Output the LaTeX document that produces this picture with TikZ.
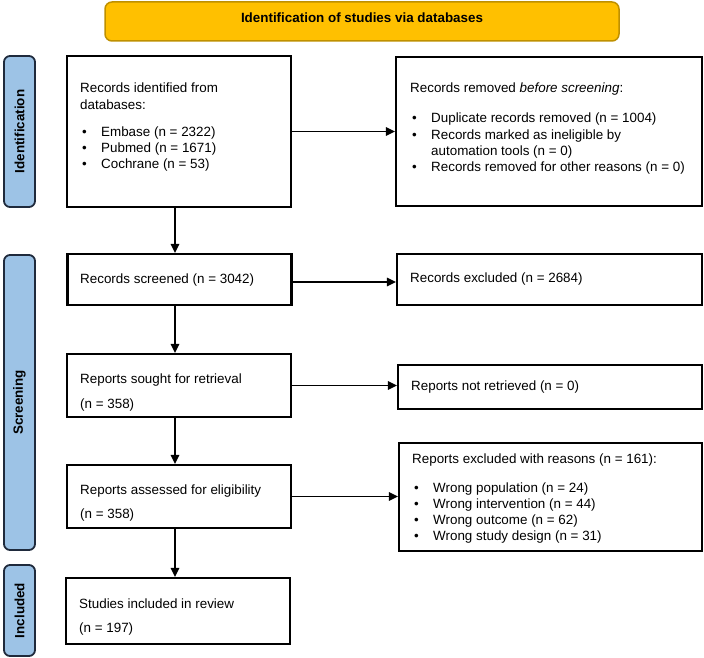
\documentclass[tikz,border=0pt]{standalone}
\usepackage{fontspec}
\setmainfont{Liberation Sans}
\usetikzlibrary{arrows.meta,calc}
\definecolor{bannerfill}{HTML}{FFC000}
\definecolor{bannerdraw}{HTML}{BF9000}
\definecolor{sidefill}{HTML}{9DC3E6}
\definecolor{sidedraw}{HTML}{1F2A3C}
\newcommand\pbul{\makebox[21pt][l]{\hspace{2pt}\textbullet}}
\newcommand\pind{\hspace*{21pt}}
\begin{document}
\begin{tikzpicture}[x=1pt,y=-1pt,
  font=\fontsize{13.4}{16.3}\selectfont,
  box/.style={draw=black, line width=2.2pt, inner sep=0pt},
  arr/.style={-{Triangle[length=9pt,width=8.5pt]}, line width=1.5pt},
  side/.style={draw=sidedraw, fill=sidefill, line width=1.8pt, rounded corners=6pt,
    rotate=90, inner sep=0pt, font=\fontsize{13.4}{16}\selectfont\bfseries},
  banner/.style={draw=bannerdraw, fill=bannerfill, line width=1.5pt, rounded corners=7pt, inner sep=0pt},
  txt/.style={anchor=base west, inner sep=0pt, align=left}]
\useasboundingbox (0,0) rectangle (704,658);

% banner
\node[banner, minimum width=514pt, minimum height=39pt] (banner) at (362,21.5) {};
\node[inner sep=0pt, font=\fontsize{13.4}{16}\selectfont\bfseries] (bannertxt) at (362,17.5) {Identification of studies via databases};

% side bars
\node[side, minimum width=151pt, minimum height=31pt] (sideid) at (19.5,131.5) {Identification};
\node[side, minimum width=295pt, minimum height=31pt] (sidescr) at (19.5,402.5) {Screening};
\node[side, minimum width=91pt, minimum height=31pt] (sideinc) at (19.5,610.5) {Included};

% boxes
\node[box, minimum width=224pt, minimum height=151pt] (ident) at (179,131.5) {};
\node[box, minimum width=306pt, minimum height=149pt] (removed) at (549,131.5) {};
\node[box, minimum width=224pt, minimum height=51pt] (screened) at (179.5,279.5) {};
\node[box, minimum width=305pt, minimum height=51pt] (excluded) at (549.5,279.5) {};
\node[box, minimum width=224pt, minimum height=63pt] (sought) at (179,385.5) {};
\node[box, minimum width=304pt, minimum height=44pt] (notret) at (550,387) {};
\node[box, minimum width=224pt, minimum height=63pt] (assessed) at (179,496.5) {};
\node[box, minimum width=303pt, minimum height=108pt] (reasons) at (550.5,497) {};
\node[box, minimum width=224pt, minimum height=66pt] (included) at (178,611) {};

% texts
\node[txt] (identtxt) at (80,93) {\begin{tabular}[t]{@{}l@{}}
Records identified from\\
databases:\\[10.7pt]
\pbul Embase (n = 2322)\\
\pbul Pubmed (n = 1671)\\
\pbul Cochrane (n = 53)
\end{tabular}};
\node[txt] (removedtxt) at (410,93) {\begin{tabular}[t]{@{}l@{}}
Records removed \textit{before screening}:\\[13.7pt]
\pbul Duplicate records removed (n = 1004)\\
\pbul Records marked as ineligible by\\
\pind automation tools (n = 0)\\
\pbul Records removed for other reasons (n = 0)
\end{tabular}};
\node[txt] (screenedtxt) at (80,283) {Records screened (n = 3042)};
\node[txt] (excludedtxt) at (410,282) {Records excluded (n = 2684)};
\node[txt] (soughttxt) at (80,383) {\begin{tabular}[t]{@{}l@{}}
Reports sought for retrieval\\[8.7pt]
(n = 358)
\end{tabular}};
\node[txt] (notrettxt) at (411,390) {Reports not retrieved (n = 0)};
\node[txt] (assessedtxt) at (80,494) {\begin{tabular}[t]{@{}l@{}}
Reports assessed for eligibility\\[7.7pt]
(n = 358)
\end{tabular}};
\node[txt] (reasonstxt) at (412,463) {\begin{tabular}[t]{@{}l@{}}
Reports excluded with reasons (n = 161):\\[12.7pt]
\pbul Wrong population (n = 24)\\
\pbul Wrong intervention (n = 44)\\
\pbul Wrong outcome (n = 62)\\
\pbul Wrong study design (n = 31)
\end{tabular}};
\node[txt] (includedtxt) at (79,608) {\begin{tabular}[t]{@{}l@{}}
Studies included in review\\[7.7pt]
(n = 197)
\end{tabular}};

% connectors
\coordinate (vx) at (175,0);
\draw[arr] (ident.south -| vx) -- (screened.north -| vx);
\draw[arr] (screened.south -| vx) -- (sought.north -| vx);
\draw[arr] (sought.south -| vx) -- (assessed.north -| vx);
\draw[arr] (assessed.south -| vx) -- (included.north -| vx);
\draw[arr] (ident.east) -- (removed.west |- ident.east);
\coordinate (scrout) at ($(screened.east)+(0,2.5)$);
\draw[arr] (scrout) -- (excluded.west |- scrout);
\draw[arr] (sought.east) -- (notret.west |- sought.east);
\draw[arr] (assessed.east) -- (reasons.west |- assessed.east);
\end{tikzpicture}
\end{document}
